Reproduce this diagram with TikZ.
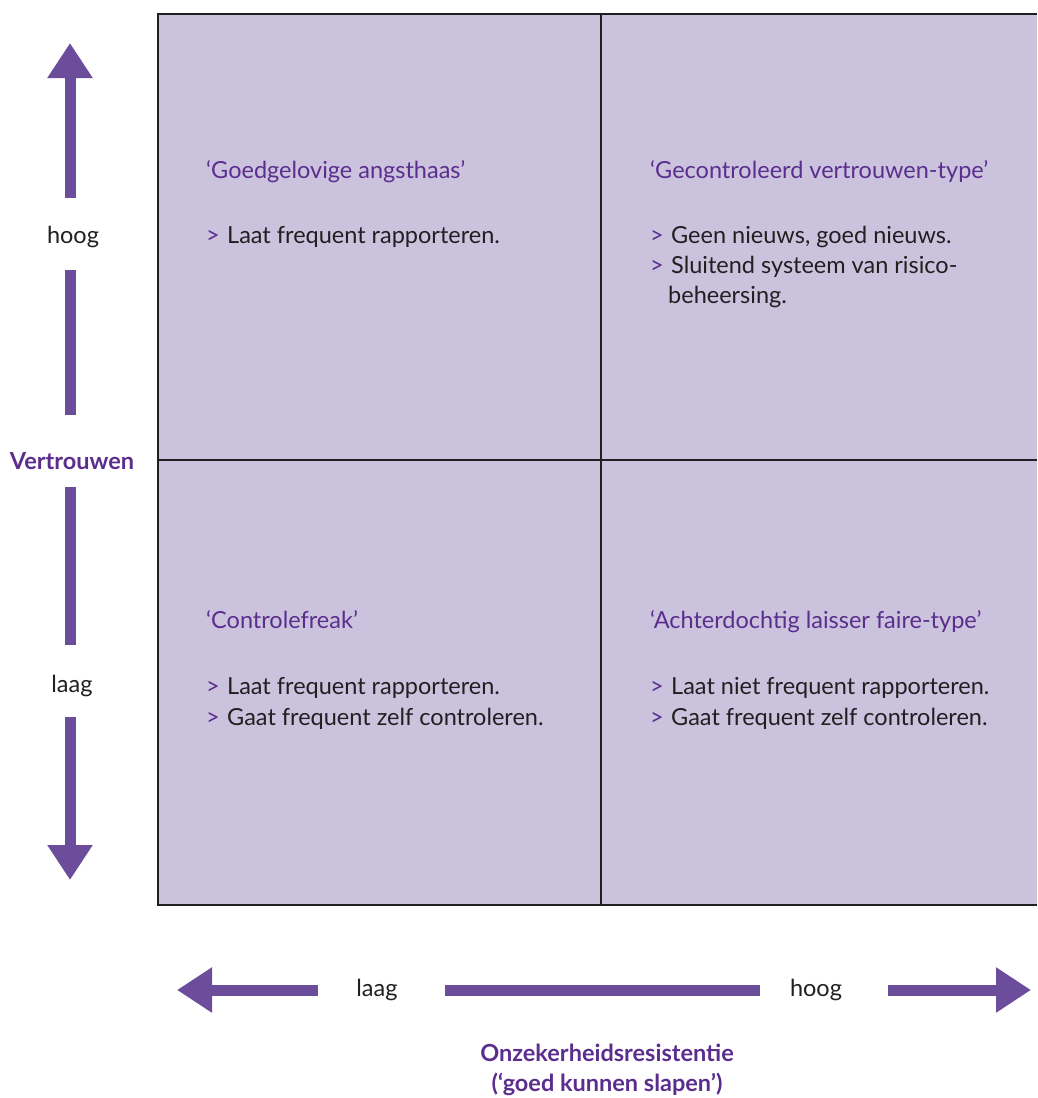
\documentclass[tikz,border=0pt]{standalone}
\usepackage{fontspec}
\setmainfont{Lato}
\usetikzlibrary{arrows.meta}

\definecolor{quadfill}{HTML}{CBC3DE}
\definecolor{arrowpurple}{HTML}{6B4D9B}
\definecolor{titlepurple}{HTML}{5B2E8E}
\definecolor{inkgrey}{HTML}{231F20}

\tikzset{
  axisarrow/.style={line width=11pt, draw=arrowpurple},
  axishead/.style={-{Triangle[width=43pt,length=35pt]}},
  axislabel/.style={font=\fontsize{23.5}{28}\selectfont, text=inkgrey},
  axistitle/.style={font=\bfseries\fontsize{23.5}{30}\selectfont, text=titlepurple, align=center},
  quadtitle/.style={anchor=base west, inner sep=0pt, font=\fontsize{23.5}{28}\selectfont, text=titlepurple},
  quadtext/.style={anchor=base west, inner sep=0pt, font=\fontsize{23.5}{28}\selectfont, text=inkgrey},
}
\newcommand{\bul}{\makebox[21pt][l]{\textcolor{titlepurple}{>}}}

\begin{document}
\begin{tikzpicture}[x=1pt, y=-1pt]
  \useasboundingbox (0,0) rectangle (1037,1098);

  % the four quadrants
  \fill[quadfill] (158,14) rectangle (1037,905);
  \draw[inkgrey, line width=2pt] (1037,14) -- (158,14) -- (158,905) -- (1037,905);
  \draw[inkgrey, line width=2pt] (601,14) -- (601,905);
  \draw[inkgrey, line width=2pt] (158,460) -- (1037,460);

  % top left
  \node[quadtitle] (tltitle) at (206,178) {‘Goedgelovige angsthaas’};
  \node[quadtext] (tl1) at (206,243) {\bul Laat frequent rapporteren.};

  % top right
  \node[quadtitle] (trtitle) at (650,178) {‘Gecontroleerd vertrouwen-type’};
  \node[quadtext] (tr1) at (650,243) {\bul Geen nieuws, goed nieuws.};
  \node[quadtext] (tr2) at (650,273) {\bul Sluitend systeem van risico-};
  \node[quadtext] (tr3) at (650,303) {\hspace{18pt}beheersing.};

  % bottom left
  \node[quadtitle] (bltitle) at (206,628) {‘Controlefreak’};
  \node[quadtext] (bl1) at (206,694) {\bul Laat frequent rapporteren.};
  \node[quadtext] (bl2) at (206,725) {\bul Gaat frequent zelf controleren.};

  % bottom right
  \node[quadtitle] (brtitle) at (650,628) {‘Achterdochtig laisser faire-type’};
  \node[quadtext] (br1) at (650,694) {\bul Laat niet frequent rapporteren.};
  \node[quadtext] (br2) at (650,725) {\bul Gaat frequent zelf controleren.};

  % vertical axis
  \foreach \n/\y in {0/43,1/198,2/270,3/415,4/487,5/645,6/717,7/880}
    \coordinate (v\n) at (70,\y);
  \node[axislabel] (vhoog) at (73,237) {hoog};
  \node[axistitle] (vname) at (72,461) {Vertrouwen};
  \node[axislabel] (vlaag) at (72,686) {laag};
  \draw[axisarrow, axishead] (v1) -- (v0);
  \draw[axisarrow] (v2) -- (v3);
  \draw[axisarrow] (v4) -- (v5);
  \draw[axisarrow, axishead] (v6) -- (v7);

  % horizontal axis
  \foreach \n/\x in {0/177,1/318,2/445,3/760,4/888,5/1031}
    \coordinate (h\n) at (\x,990);
  \node[axislabel] (hlaag) at (377,990) {laag};
  \node[axislabel] (hhoog) at (816,990) {hoog};
  \draw[axisarrow, axishead] (h1) -- (h0);
  \draw[axisarrow] (h2) -- (h3);
  \draw[axisarrow, axishead] (h4) -- (h5);
  \node[axistitle] (hname) at (607,1070) {Onzekerheidsresistentie\\(‘goed kunnen slapen’)};
\end{tikzpicture}
\end{document}
